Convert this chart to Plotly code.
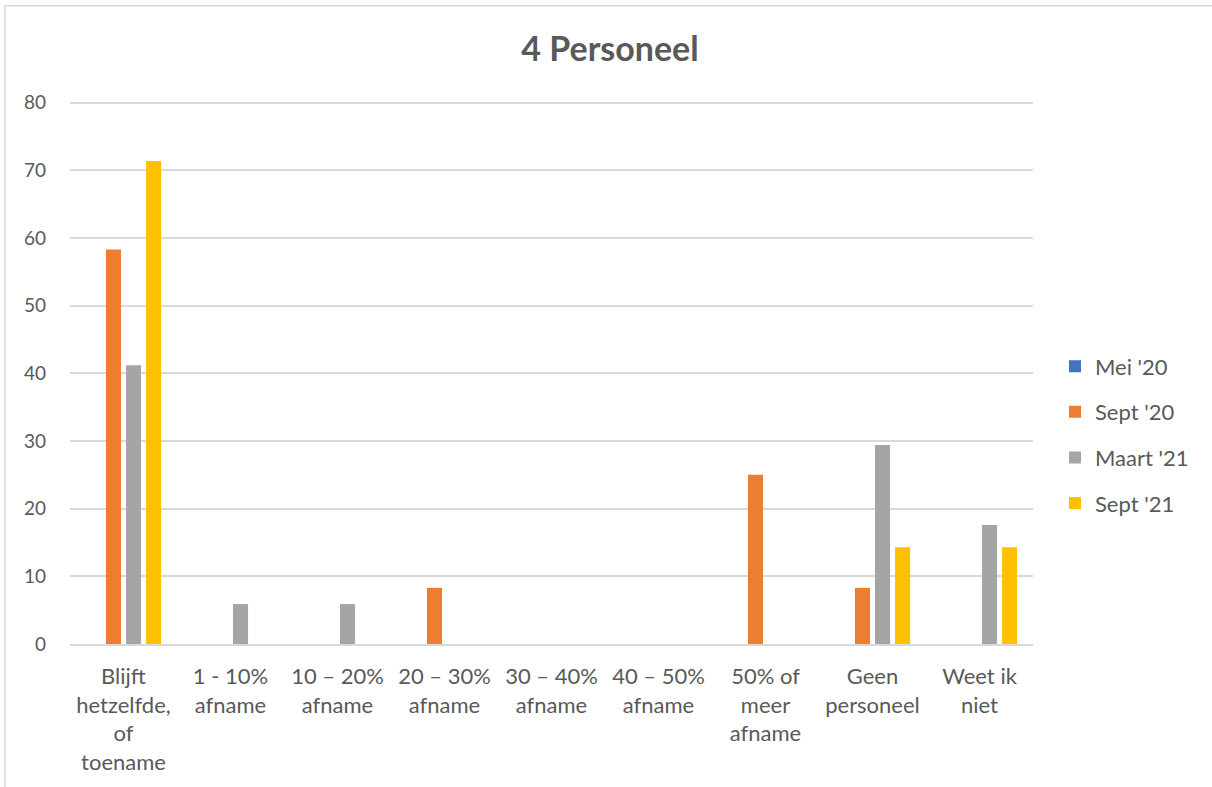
import plotly.graph_objects as go

categories = [
    "Blijft<br>hetzelfde,<br>of<br>toename",
    "1 - 10%<br>afname",
    "10 – 20%<br>afname",
    "20 – 30%<br>afname",
    "30 – 40%<br>afname",
    "40 – 50%<br>afname",
    "50% of<br>meer<br>afname",
    "Geen<br>personeel",
    "Weet ik<br>niet",
]
series_names = ["Mei '20", "Sept '20", "Maart '21", "Sept '21"]
mei_20 = [0, 0, 0, 0, 0, 0, 0, 0, 0]
sept_20 = [58.3, 0, 0, 8.3, 0, 0, 25.0, 8.3, 0]
maart_21 = [41.2, 5.9, 5.9, 0, 0, 0, 0, 29.4, 17.6]
sept_21 = [71.4, 0, 0, 0, 0, 0, 0, 14.3, 14.3]
y_ticks = [0, 10, 20, 30, 40, 50, 60, 70, 80]

colors = ["#4472C4", "#ED7D31", "#A5A5A5", "#FFC000"]
values = [mei_20, sept_20, maart_21, sept_21]

FONT = "Lato, Carlito, Calibri, sans-serif"
GREY = "#595959"

fig = go.Figure()
for name, vals, col in zip(series_names, values, colors):
    fig.add_trace(go.Bar(
        x=list(range(len(categories))), y=vals, name=name,
        marker=dict(color=col, line=dict(width=0)),
        legendgroup=name,
    ))

W, H = 1212, 787
Y_MAX = 81
L, R, B = 70, 179, 143
T = 103 - (644 - 103) / 80 * (Y_MAX - 80)
pw, ph = W - L - R, H - T - B

def px_x(p):
    return (p - L) / pw

def px_y(p):
    return (H - B - p) / ph

fig.update_layout(
    width=W, height=H,
    margin=dict(l=L, r=R, t=T, b=B, autoexpand=False),
    paper_bgcolor="white", plot_bgcolor="white",
    barmode="group", bargap=0.25, bargroupgap=0.25,
    font=dict(family=FONT, color=GREY, size=20),
    title=dict(text="<b>4 Personeel</b>", xref="container", x=610 / W, xanchor="center",
               yref="container", y=1 - 49 / H, yanchor="middle",
               font=dict(family=FONT, size=34, color=GREY)),
    xaxis=dict(
        tickmode="array", tickvals=list(range(len(categories))), ticktext=categories,
        range=[-0.5, len(categories) - 0.5],
        showgrid=False, showline=True, linecolor="#d9d9d9", linewidth=1.5,
        ticks="", tickfont=dict(size=22, color=GREY, family=FONT),
        ticklabelstandoff=12,
    ),
    yaxis=dict(
        range=[0, Y_MAX], tickmode="array", tickvals=y_ticks,
        showgrid=True, gridcolor="#d9d9d9", gridwidth=1.5,
        zeroline=False, showline=False, ticks="",
        tickfont=dict(size=19, color=GREY, family=FONT),
        ticklabelstandoff=23,
    ),
    legend=dict(
        x=px_x(1055), xanchor="left", y=px_y(435), yanchor="middle",
        traceorder="grouped", tracegroupgap=14,
        font=dict(size=22, color=GREY, family=FONT),
        bgcolor="rgba(0,0,0,0)",
    ),
    showlegend=True,
    shapes=[dict(
        type="rect", xref="paper", yref="paper",
        x0=px_x(5), x1=px_x(1220), y0=px_y(800), y1=px_y(6),
        line=dict(color="#d9d9d9", width=1.5), fillcolor="rgba(0,0,0,0)",
        layer="below",
    )],
)

fig.write_html(
    "out.html",
    config={"displayModeBar": False},
    post_script="document.body.style.margin='0';document.body.style.overflow='hidden';",
)
